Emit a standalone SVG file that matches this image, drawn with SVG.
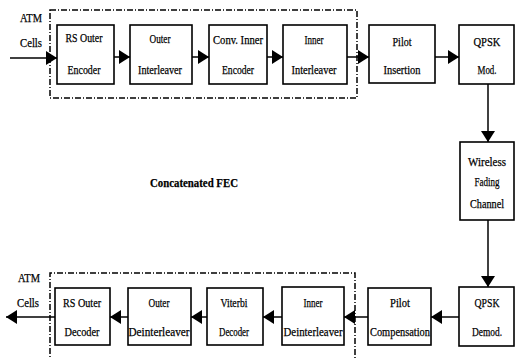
<svg xmlns="http://www.w3.org/2000/svg" width="515" height="358" viewBox="0 0 515 358">
<style>
.box{fill:#fff;stroke:#000;stroke-width:1.6}
.dash{fill:none;stroke:#000;stroke-width:1.5;stroke-dasharray:6,2,1,2}
.t{font-family:"Liberation Serif","DejaVu Serif",serif;font-size:13px;fill:#000;stroke:#000;stroke-width:0.25;text-anchor:middle}
.l{font-family:"Liberation Serif","DejaVu Serif",serif;font-size:13px;fill:#000;stroke:#000;stroke-width:0.25}
.c{stroke:#000;stroke-width:1.5;fill:none;marker-end:url(#ah)}
</style>
<defs>
<marker id="ah" markerUnits="userSpaceOnUse" markerWidth="12" markerHeight="14" refX="11" refY="7" orient="auto">
<path d="M0,0 L11,7 L0,14 z" fill="#000"/>
</marker>
</defs>
<rect class="dash" x="50" y="10" width="307" height="88"/>
<path class="dash" d="M50,365 V273 H355 V365"/>
<g id="connectors">
<line class="c" x1="10" y1="58" x2="57" y2="58"/>
<line class="c" x1="114" y1="57" x2="130" y2="57"/>
<line class="c" x1="192" y1="57" x2="209" y2="57"/>
<line class="c" x1="267" y1="57" x2="283" y2="57"/>
<line class="c" x1="347" y1="57" x2="369" y2="57"/>
<line class="c" x1="435" y1="57" x2="459" y2="57"/>
<line class="c" x1="488" y1="84" x2="488" y2="142"/>
<line class="c" x1="488" y1="220" x2="488" y2="287"/>
<line class="c" x1="459" y1="317" x2="431" y2="317"/>
<line class="c" x1="368" y1="317" x2="344" y2="317"/>
<line class="c" x1="282" y1="317" x2="263" y2="317"/>
<line class="c" x1="207" y1="317" x2="191" y2="317"/>
<line class="c" x1="128" y1="317" x2="110" y2="317"/>
<line class="c" x1="55" y1="317" x2="6" y2="317"/>
</g>
<g id="atm-in"><text class="l" x="20" y="22" textLength="22" lengthAdjust="spacingAndGlyphs">ATM</text><text class="l" x="20" y="47" textLength="22" lengthAdjust="spacingAndGlyphs">Cells</text></g>
<g id="rs-enc"><rect class="box" x="57" y="25" width="57" height="59"/><text class="t" x="84" y="42" textLength="37" lengthAdjust="spacingAndGlyphs">RS Outer</text><text class="t" x="84" y="74" textLength="33" lengthAdjust="spacingAndGlyphs">Encoder</text></g>
<g id="outer-int"><rect class="box" x="130" y="25" width="62" height="59"/><text class="t" x="160" y="43" textLength="21" lengthAdjust="spacingAndGlyphs">Outer</text><text class="t" x="160" y="74" textLength="44" lengthAdjust="spacingAndGlyphs">Interleaver</text></g>
<g id="conv-enc"><rect class="box" x="209" y="25" width="58" height="59"/><text class="t" x="238" y="44" textLength="50" lengthAdjust="spacingAndGlyphs">Conv. Inner</text><text class="t" x="238" y="74" textLength="32" lengthAdjust="spacingAndGlyphs">Encoder</text></g>
<g id="inner-int"><rect class="box" x="283" y="25" width="64" height="59"/><text class="t" x="314" y="44" textLength="19" lengthAdjust="spacingAndGlyphs">Inner</text><text class="t" x="314" y="74" textLength="45" lengthAdjust="spacingAndGlyphs">Interleaver</text></g>
<g id="pilot-ins"><rect class="box" x="369" y="25" width="66" height="58"/><text class="t" x="402" y="46" textLength="19" lengthAdjust="spacingAndGlyphs">Pilot</text><text class="t" x="402" y="74" textLength="37" lengthAdjust="spacingAndGlyphs">Insertion</text></g>
<g id="qpsk-mod"><rect class="box" x="459" y="25" width="55" height="59"/><text class="t" x="487" y="46" textLength="27" lengthAdjust="spacingAndGlyphs">QPSK</text><text class="t" x="487" y="74" textLength="19" lengthAdjust="spacingAndGlyphs">Mod.</text></g>
<g id="channel"><rect class="box" x="460" y="142" width="54" height="78"/><text class="t" x="487" y="166" textLength="38" lengthAdjust="spacingAndGlyphs">Wireless</text><text class="t" x="487" y="186" textLength="25" lengthAdjust="spacingAndGlyphs">Fading</text><text class="t" x="487" y="208" textLength="34" lengthAdjust="spacingAndGlyphs">Channel</text></g>
<g id="fec-label"><text class="l" x="150" y="187" font-weight="bold" textLength="88" lengthAdjust="spacingAndGlyphs">Concatenated FEC</text></g>
<g id="qpsk-demod"><rect class="box" x="459" y="287" width="55" height="59"/><text class="t" x="487" y="307" textLength="25" lengthAdjust="spacingAndGlyphs">QPSK</text><text class="t" x="487" y="336" textLength="30" lengthAdjust="spacingAndGlyphs">Demod.</text></g>
<g id="pilot-comp"><rect class="box" x="368" y="288" width="63" height="57"/><text class="t" x="400" y="307" textLength="20" lengthAdjust="spacingAndGlyphs">Pilot</text><text class="t" x="400" y="336" textLength="60" lengthAdjust="spacingAndGlyphs">Compensation</text></g>
<g id="inner-deint"><rect class="box" x="282" y="287" width="62" height="58"/><text class="t" x="313" y="307" textLength="19" lengthAdjust="spacingAndGlyphs">Inner</text><text class="t" x="313" y="336" textLength="59" lengthAdjust="spacingAndGlyphs">Deinterleaver</text></g>
<g id="viterbi"><rect class="box" x="207" y="288" width="56" height="57"/><text class="t" x="234" y="307" textLength="27" lengthAdjust="spacingAndGlyphs">Viterbi</text><text class="t" x="234" y="336" textLength="30" lengthAdjust="spacingAndGlyphs">Decoder</text></g>
<g id="outer-deint"><rect class="box" x="128" y="288" width="63" height="57"/><text class="t" x="159" y="307" textLength="21" lengthAdjust="spacingAndGlyphs">Outer</text><text class="t" x="159" y="336" textLength="61" lengthAdjust="spacingAndGlyphs">Deinterleaver</text></g>
<g id="rs-dec"><rect class="box" x="55" y="288" width="55" height="57"/><text class="t" x="82" y="307" textLength="38" lengthAdjust="spacingAndGlyphs">RS Outer</text><text class="t" x="82" y="336" textLength="35" lengthAdjust="spacingAndGlyphs">Decoder</text></g>
<g id="atm-out"><text class="l" x="18" y="282" textLength="22" lengthAdjust="spacingAndGlyphs">ATM</text><text class="l" x="17" y="307" textLength="22" lengthAdjust="spacingAndGlyphs">Cells</text></g>
</svg>
